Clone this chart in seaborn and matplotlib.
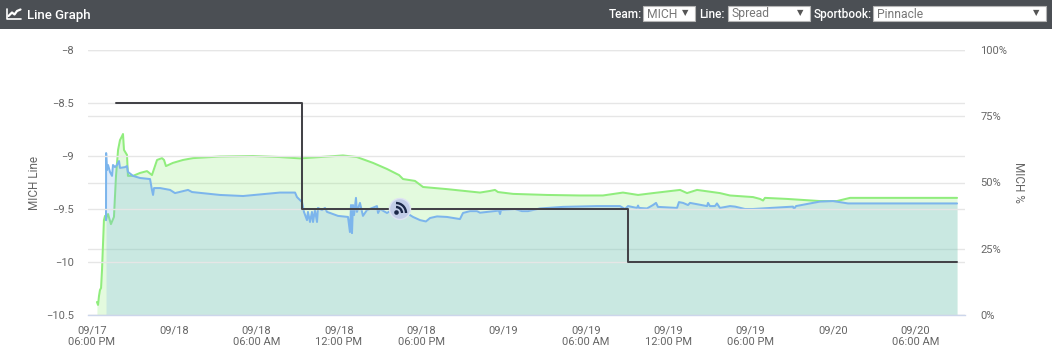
import numpy as np
import pandas as pd
import seaborn as sns
import matplotlib.pyplot as plt
from matplotlib.lines import Line2D
from matplotlib.patches import Arc, Circle, Rectangle

# hours since 09/17 06:00 PM
green_h = [0.36, 0.44, 0.51, 0.58, 0.66, 0.73, 0.80, 0.87, 0.95, 1.02, 1.09, 1.17, 1.38, 1.60, 1.75, 1.90,
           2.04, 2.19, 2.26, 2.33, 2.55, 2.62, 2.70, 2.99, 3.50, 4.01, 4.37, 4.74, 5.10, 5.25, 5.39, 5.90,
           6.63, 7.36, 9.33, 11.73, 13.7, 15.16, 16.62, 18.29, 19.31, 20.48, 21.5, 22.38, 22.67, 23.54,
           24.13, 25.87, 28.28, 29.0, 29.37, 29.59, 30.69, 33.16, 35.57, 37.24, 38.70, 39.8, 40.89, 42.86,
           43.37, 44.1, 45.77, 46.5, 48.18, 48.69, 48.91, 49.05, 50.66, 53.06, 54.3, 55.25, 63.05]
green_pct = [4.9, 3.8, 7.2, 9.4, 10.2, 17, 26.4, 35.8, 37.4, 35.8, 37.4, 38.1, 34.3, 37, 52.5, 62.3,
             66, 67.5, 68.3, 62.3, 60.4, 52.5, 52.5, 52.5, 53.6, 54.3, 52.8, 58.5, 59.2, 58.5, 56.2, 57.4,
             58.5, 59.2, 59.8, 60, 59.6, 59.1, 59.6, 60.2, 59.6, 57.4, 55.1, 52.8, 51.3, 50.6,
             48.3, 47.5, 46.2, 46.8, 47.2, 46.4, 45.7, 45.3, 45.1, 45.1, 46.2, 45.3, 46, 47.2,
             46, 47.2, 46, 45.1, 44.5, 43.8, 43.2, 44.2, 43.8, 43, 43, 44.2, 44.2]

blue_h = [1.02, 1.03, 1.09, 1.17, 1.31, 1.46, 1.53, 1.68, 1.82, 1.97, 2.04, 2.41, 2.55, 2.62, 2.99, 3.5,
          4.23, 4.37, 4.45, 4.52, 4.96, 5.69, 6.05, 7, 7.29, 9.33, 11.01, 13.7, 14.8, 14.94, 15.31, 15.45,
          15.67, 15.74, 15.89, 16.03, 16.11, 16.25, 16.4, 16.47, 16.76, 16.98, 17.13, 17.35, 17.93, 18.66,
          18.8, 18.88, 18.95, 19.02, 19.1, 19.24, 19.31, 19.53, 19.75, 20.04, 20.77, 20.85, 20.99, 21.5,
          21.72, 22.45, 23.4, 23.91, 24.34, 24.64, 25.15, 25.87, 26.82, 27.04, 27.55, 28.06, 28.28, 29.66,
          29.74, 29.81, 30.83, 31.34, 31.78, 32.65, 34.33, 36.81, 38.48, 38.85, 39.07, 39.72, 39.8, 39.87,
          40.45, 40.89, 41.11, 41.25, 42.64, 42.78, 43.08, 43.44, 43.59, 44.83, 44.9, 45.04, 45.41, 45.55,
          45.77, 46.5, 46.87, 47.59, 48.18, 51.09, 51.17, 51.31, 53.06, 54.01, 55.1, 63.05]
blue_pct = [35.8, 61.1, 54.7, 56.6, 54, 52.5, 56.6, 55.8, 56.6, 58.1, 55.5, 55.8, 56.2, 54, 52.5, 51.7,
            51.3, 47.2, 45.3, 47.9, 47.9, 47.2, 46, 47.2, 46.4, 45.3, 44.9, 46.2, 46.2, 44.5, 42.6, 38.9,
            35.8, 38.9, 35.1, 38.9, 35.1, 39.6, 35.1, 40.4, 39.6, 40.4, 38.9, 38.5, 37.4, 37,
            31.3, 41.5, 30.9, 41.5, 37.7, 44.2, 38.9, 42.3, 37.4, 39.6, 41.1, 38.5, 40, 38.5,
            39.2, 40, 37, 35.8, 35.3, 36.6, 37.2, 37, 36.2, 38.5, 39.2, 39.2, 38.6, 39.4,
            38.1, 39.6, 40, 39.2, 39.2, 40.2, 40.8, 41.1, 41.1, 40, 41.1, 40.4, 41.3, 40.4,
            40.2, 41.5, 42.3, 40.8, 40.4, 42.6, 42.3, 41.5, 42.3, 41.1, 42.3, 41.1, 41.1, 42.1,
            40.4, 41.1, 40.9, 40, 40, 40.9, 40, 41.1, 42.8, 43, 42.1, 42.1]

line_h = [1.75, 15.3, 39.07, 63.05]
line_val = [-8.5, -9.5, -10, -10]

x_ticks = [0, 6, 12, 18, 24, 30, 36, 42, 48, 54, 60]
x_labels = ["09/17\n06:00 PM", "09/18", "09/18\n06:00 AM", "09/18\n12:00 PM", "09/18\n06:00 PM", "09/19",
            "09/19\n06:00 AM", "09/19\n12:00 PM", "09/19\n06:00 PM", "09/20", "09/20\n06:00 AM"]
left_ticks = [-10.5, -10, -9.5, -9, -8.5, -8]
left_labels = ["−10.5", "−10", "−9.5", "−9", "−8.5", "−8"]
right_ticks = [0, 25, 50, 75, 100]
right_labels = ["0%", "25%", "50%", "75%", "100%"]

BLUE = "#7cb5ec"
GREEN = "#90ed7d"
DARK = "#434348"
TXT = "#666666"

sns.set_theme(style="white")
plt.rcParams["font.family"] = ["Roboto", "DejaVu Sans"]

W, H = 1052, 359
fig = plt.figure(figsize=(W / 100, H / 100), dpi=100)
ax = fig.add_axes([88 / W, 1 - 315 / H, 877 / W, 265 / H])
ax2 = ax.twinx()
ax.set_zorder(2)
ax.patch.set_visible(False)

green = pd.DataFrame({"h": green_h, "pct": green_pct})
blue = pd.DataFrame({"h": blue_h, "pct": blue_pct})
steps = pd.DataFrame({"h": line_h, "val": line_val})

ax2.fill_between(green["h"], 0, green["pct"], color=GREEN, alpha=0.25, lw=0, zorder=2)
sns.lineplot(data=green, x="h", y="pct", sort=False, estimator=None, color=GREEN, linewidth=1.45, ax=ax2, zorder=3)
ax2.fill_between(blue["h"], 0, blue["pct"], color=BLUE, alpha=0.25, lw=0, zorder=4)
sns.lineplot(data=blue, x="h", y="pct", sort=False, estimator=None, color=BLUE, linewidth=1.45, ax=ax2, zorder=5)
sns.lineplot(data=steps, x="h", y="val", sort=False, estimator=None, color=DARK, linewidth=1.45,
             drawstyle="steps-post", ax=ax)

x0 = (88 - 92) / 13.72
x1 = (965 - 92) / 13.72
ax.set_xlim(x0, x1)
ax.set_ylim(-10.5, -8)
ax2.set_ylim(0, 100)

ax.set_xticks(x_ticks)
ax.set_xticklabels(x_labels, fontsize=8, color=TXT, linespacing=1.15)
ax.set_yticks(left_ticks)
ax.set_yticklabels(left_labels, fontsize=8, color=TXT)
ax2.set_yticks(right_ticks)
ax2.set_yticklabels(right_labels, fontsize=8, color=TXT)
ax.tick_params(axis="x", length=6, width=1, color="#ccd6eb", pad=1.5)
ax.tick_params(axis="y", length=0, pad=10)
ax2.tick_params(axis="y", length=0, pad=11)
ax.set_xlabel("")
ax.set_ylabel("MICH Line", fontsize=8.5, color=TXT)
ax.yaxis.set_label_coords((41 - 88) / 877, 0.5)
ax2.set_xlabel("")
ax2.set_ylabel("MICH %", fontsize=8.5, color=TXT, rotation=270, va="center")
ax2.yaxis.set_label_coords((1018 - 88) / 877, 0.5)

for a in [ax, ax2]:
    a.grid(axis="y", color="#e6e6e6", linewidth=1)
    a.set_axisbelow(True)
    for s in a.spines.values():
        s.set_visible(False)
ax.spines["bottom"].set_visible(True)
ax.spines["bottom"].set_color("#ccd6eb")
ax.spines["bottom"].set_linewidth(1)

# header bar and the rss badge, laid out in pixels
ov = fig.add_axes([0, 0, 1, 1], zorder=5)
ov.set_xlim(0, W)
ov.set_ylim(H, 0)
ov.axis("off")
ov.patch.set_visible(False)

ov.add_patch(Rectangle((0, 0), W, 28.5, color="#4b4f54", lw=0))
ov.add_line(Line2D([6.5, 6.5, 21], [9, 18.5, 18.5], color="white", lw=1.2))
ov.add_line(Line2D([8.5, 12, 14.5, 17, 20.5], [16, 12.5, 14.5, 11, 9.5], color="white", lw=1.6))
ov.text(27, 15, "Line Graph", color="white", fontsize=9.5, fontweight="medium", va="center")

for label, lx in [("Team:", 609), ("Line:", 699), ("Sportbook:", 814)]:
    ov.text(lx, 14.5, label, color="white", fontsize=8.5, fontweight="medium", va="center")
for bx0, bx1, val, arrow in [(643, 695, "MICH", 685), (727.5, 810, "Spread", 800), (873, 1046, "Pinnacle", 1036)]:
    ov.add_patch(Rectangle((bx0, 6), bx1 - bx0, 15, facecolor="white", edgecolor="#b5b5b5", lw=0.8))
    ov.text(bx0 + 4, 14, val, color="#777777", fontsize=8.7, va="center")
    ov.text(arrow, 13, "▼", color="#555555", fontsize=6, va="center", ha="center", family="DejaVu Sans")

ov.add_patch(Circle((400, 209), 10.5, facecolor="#c3cde8", edgecolor="#dfe4f2", lw=1))
ov.add_patch(Circle((396.5, 212.5), 2.3, color="#1b2748", lw=0))
ov.add_patch(Arc((396, 213), 12, 12, theta1=270, theta2=360, color="#1b2748", lw=1.7))
ov.add_patch(Arc((396, 213), 20, 20, theta1=270, theta2=360, color="#1b2748", lw=1.7))

fig.savefig("out.png", dpi=100)
